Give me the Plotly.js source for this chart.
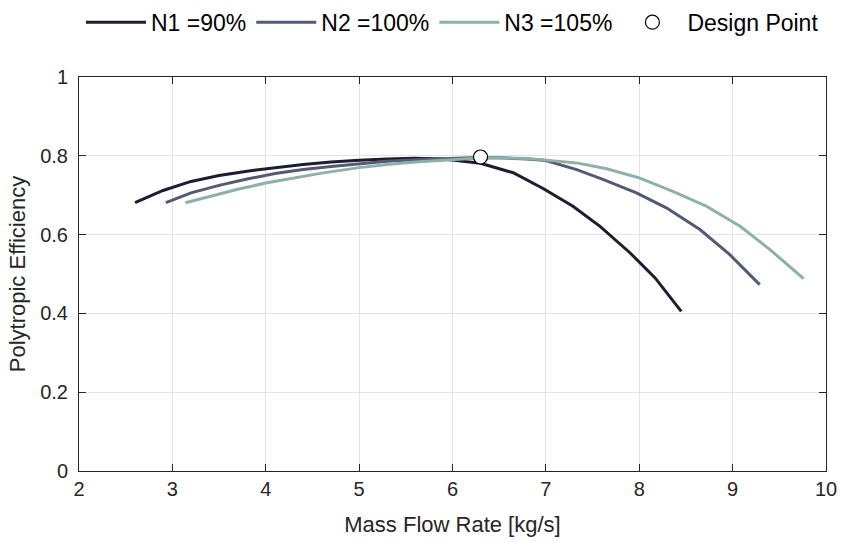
<!DOCTYPE html>
<html>
<head>
<meta charset="utf-8">
<script src="https://cdn.plot.ly/plotly-3.0.1.min.js"></script>
<style>html,body{margin:0;padding:0;background:#fff}#chart{width:841px;height:542px}</style>
</head>
<body>
<div id="chart"></div>
<script>
const n1Flow = [2.6, 2.9, 3.2, 3.5, 3.8, 4.1, 4.4, 4.7, 5.0, 5.3, 5.6, 5.9, 6.3, 6.65, 6.97, 7.29, 7.58, 7.9, 8.17, 8.45];
const n1Eff  = [0.681, 0.712, 0.735, 0.750, 0.761, 0.770, 0.778, 0.784, 0.789, 0.792, 0.794, 0.792, 0.781, 0.757, 0.717, 0.672, 0.621, 0.554, 0.490, 0.405];

const n2Flow = [2.93, 3.2, 3.5, 3.8, 4.1, 4.4, 4.7, 5.0, 5.3, 5.6, 5.9, 6.2, 6.5, 6.8, 7.0, 7.33, 7.61, 7.97, 8.29, 8.65, 8.97, 9.29];
const n2Eff  = [0.681, 0.706, 0.725, 0.741, 0.755, 0.765, 0.773, 0.780, 0.786, 0.790, 0.793, 0.795, 0.795, 0.792, 0.788, 0.765, 0.740, 0.706, 0.668, 0.613, 0.549, 0.473];

const n3Flow = [3.14, 3.4, 3.7, 4.0, 4.3, 4.6, 5.0, 5.3, 5.6, 5.9, 6.2, 6.5, 6.8, 7.0, 7.33, 7.65, 8.0, 8.36, 8.72, 9.08, 9.4, 9.76];
const n3Eff  = [0.681, 0.697, 0.715, 0.731, 0.744, 0.756, 0.770, 0.778, 0.784, 0.789, 0.793, 0.795, 0.793, 0.789, 0.782, 0.767, 0.744, 0.710, 0.672, 0.621, 0.562, 0.488];

const designFlow = [6.3];
const designEff = [0.797];

const seriesNames = ['N1 =90%', 'N2 =100%', 'N3 =105%', 'Design Point'];
const xTicks = [2, 3, 4, 5, 6, 7, 8, 9, 10];
const yTicks = [0, 0.2, 0.4, 0.6, 0.8, 1];
const yTickText = ['0', '0.2', '0.4', '0.6', '0.8', '1'];

const colors = ['#1d1c30', '#545b70', '#8fb0aa'];
const FONT = 'Liberation Sans, Arial, Helvetica, sans-serif';

const traces = [
  {x: n1Flow, y: n1Eff, name: seriesNames[0], mode: 'lines', line: {color: colors[0], width: 3}},
  {x: n2Flow, y: n2Eff, name: seriesNames[1], mode: 'lines', line: {color: colors[1], width: 3}},
  {x: n3Flow, y: n3Eff, name: seriesNames[2], mode: 'lines', line: {color: colors[2], width: 3}},
  {x: designFlow, y: designEff, name: seriesNames[3], mode: 'markers',
   marker: {symbol: 'circle', size: 14, color: '#ffffff', line: {color: '#000000', width: 1.2}}}
];

const axisCommon = {
  showline: true, linecolor: '#262626', linewidth: 1, mirror: 'ticks',
  ticks: 'inside', ticklen: 7, tickwidth: 1, tickcolor: '#262626',
  showgrid: true, gridcolor: '#e3e3e3', gridwidth: 1, zeroline: false,
  tickfont: {family: FONT, size: 20, color: '#262626'}
};

const layout = {
  width: 841, height: 542,
  margin: {l: 79, r: 15, t: 77, b: 71},
  paper_bgcolor: '#ffffff', plot_bgcolor: '#ffffff',
  showlegend: true,
  legend: {orientation: 'h', xref: 'paper', x: 0.5, xanchor: 'center',
    yref: 'container', y: 0.959, yanchor: 'middle',
    font: {family: FONT, size: 23, color: '#000000'}, itemwidth: 60, bgcolor: 'rgba(0,0,0,0)'},
  xaxis: Object.assign({}, axisCommon, {
    range: [2, 10], tickvals: xTicks, ticktext: xTicks.map(String),
    title: {text: 'Mass Flow Rate [kg/s]', font: {family: FONT, size: 22, color: '#262626'}, standoff: 17}
  }),
  yaxis: Object.assign({}, axisCommon, {
    range: [0, 1], tickvals: yTicks, ticktext: yTickText, ticklabelstandoff: 6,
    title: {text: 'Polytropic Efficiency', font: {family: FONT, size: 22, color: '#262626'}, standoff: 8}
  })
};

Plotly.newPlot('chart', traces, layout, {displayModeBar: false, staticPlot: true});
</script>
</body>
</html>
